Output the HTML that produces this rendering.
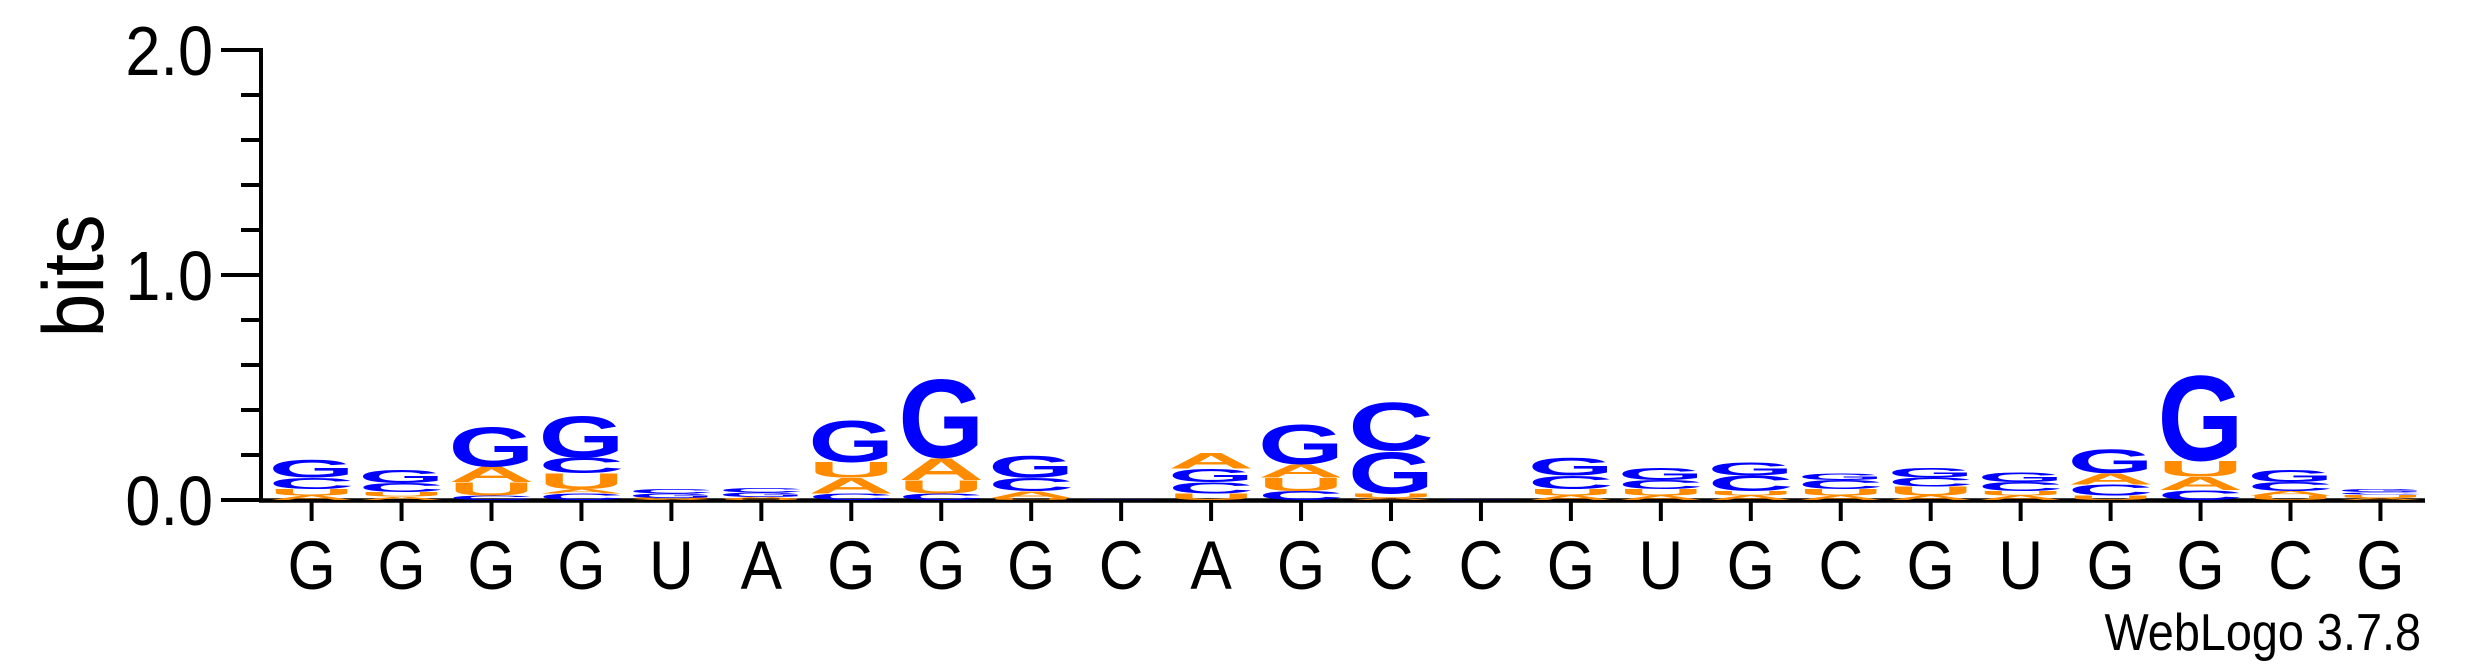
<!DOCTYPE html>
<html><head><meta charset="utf-8"><style>
html,body{margin:0;padding:0;background:#fff;}
svg{display:block;}
</style></head><body>
<svg id="chart" width="2475" height="667" viewBox="0 0 2475 667" xmlns="http://www.w3.org/2000/svg" font-family="Liberation Sans, sans-serif">
<g id="axes"></g>
<g id="marks"></g>
<text transform="translate(103,276) rotate(-90) scale(0.92,1)" text-anchor="middle" font-size="86" fill="#000">bits</text>
<text transform="translate(2421,650) scale(0.9,1)" text-anchor="end" font-size="52" fill="#000">WebLogo 3.7.8</text>
</svg>
<script>
const positions = ["G","G","G","G","U","A","G","G","G","C","A","G","C","C","G","U","G","C","G","U","G","G","C","G"];
const stackLetters = [
 ["A","U","C","G"],["A","U","C","G"],["C","U","A","G"],["C","A","U","C","G"],["A","U","G","C"],
 ["U","A","G","C"],["C","A","U","G"],["C","U","A","G"],["U","A","C","G"],["C"],
 ["U","C","G","A"],["C","U","A","G"],["A","U","G","C"],["C"],["A","U","C","G"],
 ["A","U","C","G"],["A","U","C","G"],["A","U","C","G"],["A","U","C","G"],["A","U","C","G"],
 ["U","C","A","G"],["C","A","U","G"],["U","A","C","G"],["A","U","C","G"]];
const stackBits = [
 [0.02,0.03,0.05,0.08],[0.015,0.02,0.04,0.06],[0.02,0.06,0.07,0.18],[0.03,0.02,0.07,0.07,0.19],[0.005,0.005,0.02,0.02],
 [0.005,0.008,0.02,0.02],[0.03,0.07,0.07,0.19],[0.03,0.06,0.1,0.36],[0.01,0.03,0.06,0.1],[0.004],
 [0.03,0.05,0.06,0.07],[0.04,0.06,0.06,0.18],[0.01,0.02,0.19,0.22],[0.002],[0.02,0.03,0.06,0.08],
 [0.02,0.03,0.04,0.055],[0.02,0.02,0.07,0.06],[0.02,0.03,0.04,0.03],[0.02,0.04,0.04,0.045],[0.02,0.02,0.04,0.045],
 [0.02,0.05,0.05,0.11],[0.045,0.06,0.07,0.39],[0.02,0.02,0.04,0.055],[0.01,0.015,0.01,0.015]];
const yTicks = [0,0.2,0.4,0.6,0.8,1.0,1.2,1.4,1.6,1.8,2.0];
const yLabels = ["0.0","","","","","1.0","","","","","2.0"];
const colors = {G:"#0000ff",C:"#0000ff",A:"#ff8c00",U:"#ff8c00"};

const NS="http://www.w3.org/2000/svg";
const y0=500, pxPerBit=225, x0=311.6, step=89.95;
function yS(b){return y0-b*pxPerBit;}
function xS(i){return x0+i*step;}
function mk(tag,attrs,parent){const e=document.createElementNS(NS,tag);for(const k in attrs)e.setAttribute(k,attrs[k]);parent.appendChild(e);return e;}
const axes=document.getElementById('axes');
const marks=document.getElementById('marks');

let l=mk('line',{x1:261,y1:yS(2)-2,x2:261,y2:502,stroke:'#000','stroke-width':4},axes);


l=mk('line',{x1:259,y1:500.5,x2:2425,y2:500.5,stroke:'#000','stroke-width':4.5},axes);


yTicks.forEach((t,i)=>{
  const major=yLabels[i]!=="";
  const tk=mk('line',{x1:major?221:241,y1:yS(t),x2:261,y2:yS(t),stroke:'#000','stroke-width':4},axes);
  
  
  if(major){
    const tx=mk('text',{transform:`translate(213,${yS(t)+25}) scale(0.9,1)`,'text-anchor':'end','font-size':70,fill:'#000'},axes);
    tx.textContent=yLabels[i];
    
    
  }
});
positions.forEach((p,i)=>{
  const tk=mk('line',{x1:xS(i),y1:500,x2:xS(i),y2:521,stroke:'#000','stroke-width':4},axes);
  
  
  const tx=mk('text',{transform:`translate(${xS(i)},589) scale(0.9,1)`,'text-anchor':'middle','font-size':69,fill:'#000'},axes);
  tx.textContent=p;
  
  
});
stackLetters.forEach((letters,i)=>{
  let base=0;
  letters.forEach((ch,j)=>{
    const b=stackBits[i][j];
    const hpx=b*pxPerBit;
    const t=mk('text',{x:0,y:0,'font-size':100,'font-weight':'bold',textLength:86,lengthAdjust:'spacingAndGlyphs',fill:colors[ch],
      transform:`translate(${xS(i)-43},${yS(base)}) scale(1,${hpx/72})`},marks);
    t.textContent=ch;
    
    
    base+=b;
  });
});
</script>
</body></html>
